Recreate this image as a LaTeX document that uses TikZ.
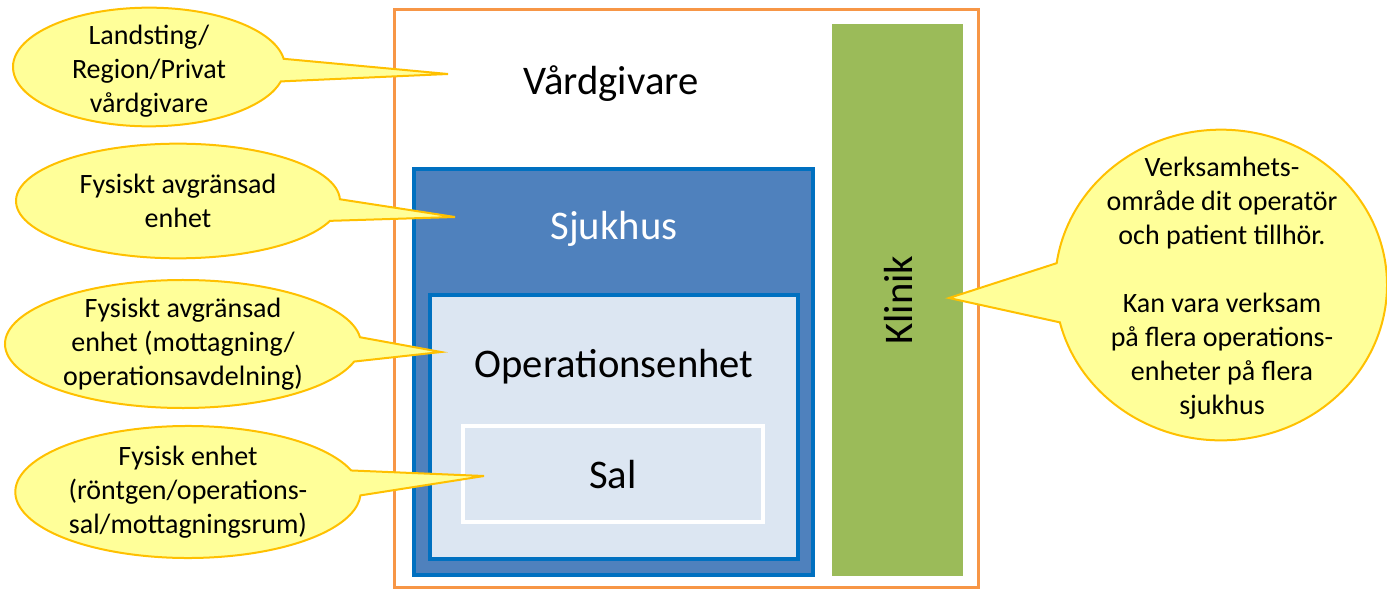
\documentclass[tikz,border=0pt]{standalone}
\usepackage{fontspec}
\setmainfont{Carlito}
\usetikzlibrary{shapes.callouts}

\begin{document}
\begin{tikzpicture}[x=0.75pt,y=0.75pt,yscale=-1,xscale=1,
	bubble/.style={ellipse callout, callout pointer arc=22, draw={rgb, 255:red, 255; green, 192; blue, 0 }, line width=1.5, fill={rgb, 255:red, 255; green, 255; blue, 153 }, inner sep=0pt},
	bubbletext/.style={align=center, font=\fontsize{21}{25.5}\selectfont},
	boxtext/.style={font=\fontsize{30.5}{35}\selectfont}]
	\path [use as bounding box] (0,0) rectangle (1387,591); %set diagram to 1387 x 591

	%Shape: Rectangle [Vardgivare]
	\draw [color={rgb, 255:red, 247; green, 150; blue, 70 }, line width=2.25] (394.5,9.5) rectangle (978.5,587.5) ;
	%Shape: Rectangle [Klinik]
	\fill [color={rgb, 255:red, 155; green, 187; blue, 89 }] (832,24) rectangle (963,576) ;
	%Shape: Rectangle [Sjukhus]
	\draw [color={rgb, 255:red, 0; green, 112; blue, 192 }, fill={rgb, 255:red, 79; green, 129; blue, 189 }, line width=3] (414,169) rectangle (813,575) ;
	%Shape: Rectangle [Operationsenhet]
	\draw [color={rgb, 255:red, 0; green, 112; blue, 192 }, fill={rgb, 255:red, 220; green, 230; blue, 242 }, line width=3] (430,295) rectangle (798,559) ;
	%Shape: Rectangle [Sal]
	\draw [color=white, fill={rgb, 255:red, 220; green, 230; blue, 242 }, line width=3] (463,426) rectangle (763,522) ;

	% Text Node
	\node [boxtext] (vardtext) at (611,84) {Vårdgivare};
	% Text Node
	\node [boxtext, text=white] (sjukhustext) at (614,229) {Sjukhus};
	% Text Node
	\node [boxtext] (optext) at (614,367) {Operationsenhet};
	% Text Node
	\node [boxtext] (saltext) at (613,475) {Sal};
	% Text Node
	\node [boxtext, rotate=90] (kliniktext) at (898,300) {Klinik};

	% pointer tips
	\coordinate (tip1) at (448,74);
	\coordinate (tip2) at (455,217);
	\coordinate (tip3) at (441,352);
	\coordinate (tip4) at (484,476);
	\coordinate (tip5) at (949,298);

	%Shape: Callout
	\node [bubble, minimum width=204pt, minimum height=89pt, callout absolute pointer={(tip1)}] (bubble1) at (149,67) {};
	\node [bubbletext] (btext1) at (149,71) {Landsting/\\Region/Privat\\vårdgivare};
	%Shape: Callout
	\node [bubble, minimum width=243pt, minimum height=86pt, callout absolute pointer={(tip2)}] (bubble2) at (178,201) {};
	\node [bubbletext] (btext2) at (bubble2.center) {Fysiskt avgränsad\\enhet};
	%Shape: Callout
	\node [bubble, minimum width=267pt, minimum height=96pt, callout absolute pointer={(tip3)}] (bubble3) at (183,344) {};
	\node [bubbletext] (btext3) at (bubble3.center) {Fysiskt avgränsad\\enhet (mottagning/\\operationsavdelning)};
	%Shape: Callout
	\node [bubble, minimum width=259pt, minimum height=99pt, callout absolute pointer={(tip4)}] (bubble4) at (188,492) {};
	\node [bubbletext] (btext4) at (bubble4.center) {Fysisk enhet\\(röntgen/operations-\\sal/mottagningsrum)};
	%Shape: Callout
	\node [bubble, minimum width=249pt, minimum height=233pt, callout absolute pointer={(tip5)}] (bubble5) at (1221,285) {};
	\node [bubbletext] (btext5) at (1222,288) {Verksamhets-\\område dit operatör\\och patient tillhör.\\[25.5pt]Kan vara verksam\\på flera operations-\\enheter på flera\\sjukhus};
\end{tikzpicture}
\end{document}
